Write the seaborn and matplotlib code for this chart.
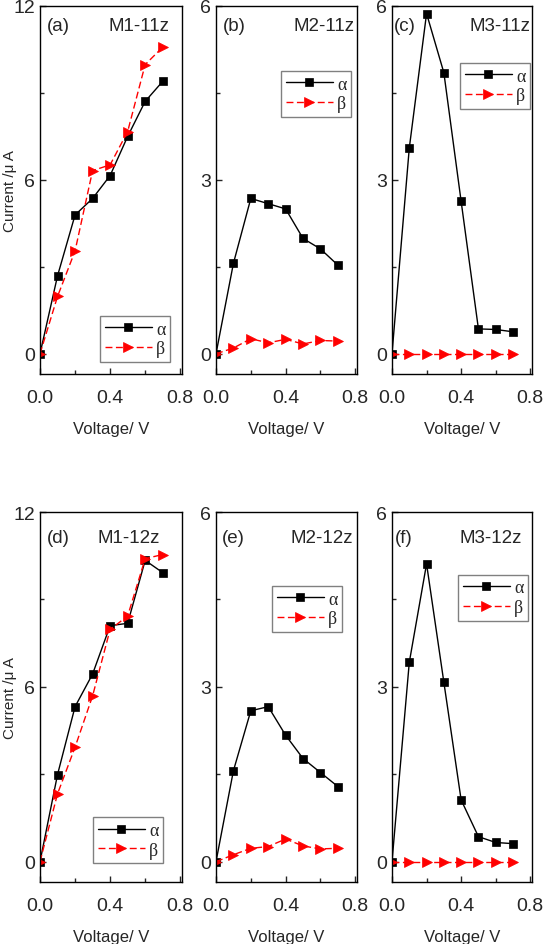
import numpy as np
import pandas as pd
import matplotlib
matplotlib.use("Agg")
import matplotlib.pyplot as plt
from matplotlib.ticker import FixedLocator
import seaborn as sns

voltage = [0.0, 0.1, 0.2, 0.3, 0.4, 0.5, 0.6, 0.7]

m1_11z_alpha = [0.0, 2.69, 4.79, 5.36, 6.15, 7.50, 8.71, 9.40]
m1_11z_beta = [0.0, 1.98, 3.55, 6.32, 6.52, 7.67, 9.98, 10.58]
m2_11z_alpha = [0.0, 1.56, 2.68, 2.59, 2.50, 1.99, 1.81, 1.53]
m2_11z_beta = [0.0, 0.10, 0.26, 0.19, 0.25, 0.17, 0.23, 0.22]
m3_11z_alpha = [0.0, 3.55, 5.87, 4.85, 2.63, 0.43, 0.42, 0.38]
m3_11z_beta = [0.0, 0.0, 0.0, 0.0, 0.0, 0.0, 0.0, 0.0]
m1_12z_alpha = [0.0, 2.99, 5.32, 6.44, 8.10, 8.18, 10.34, 9.92]
m1_12z_beta = [0.0, 2.33, 3.93, 5.69, 7.97, 8.43, 10.40, 10.54]
m2_12z_alpha = [0.0, 1.56, 2.59, 2.66, 2.17, 1.77, 1.53, 1.29]
m2_12z_beta = [0.0, 0.12, 0.23, 0.26, 0.39, 0.27, 0.22, 0.23]
m3_12z_alpha = [0.0, 3.42, 5.11, 3.08, 1.06, 0.43, 0.33, 0.31]
m3_12z_beta = [0.0, 0.0, 0.0, 0.0, 0.0, 0.0, 0.0, 0.0]

panel_tags = ["(a)", "(b)", "(c)", "(d)", "(e)", "(f)"]
panel_names = ["M1-11z", "M2-11z", "M3-11z", "M1-12z", "M2-12z", "M3-12z"]
series_names = ["α", "β"]
panel_data = [
    (m1_11z_alpha, m1_11z_beta),
    (m2_11z_alpha, m2_11z_beta),
    (m3_11z_alpha, m3_11z_beta),
    (m1_12z_alpha, m1_12z_beta),
    (m2_12z_alpha, m2_12z_beta),
    (m3_12z_alpha, m3_12z_beta),
]
ymax_list = [12, 6, 6, 12, 6, 6]
x_ticks = [0.0, 0.4, 0.8]
x_minor = [0.2, 0.6]

sns.set_style("ticks")
plt.rcParams["font.family"] = ["Liberation Sans", "DejaVu Sans"]
plt.rcParams["axes.linewidth"] = 1.0

W, H = 546, 945
fig = plt.figure(figsize=(W / 100, H / 100), dpi=100)

col_px = [(40, 182), (216, 357), (392, 532)]
row_px = [(7, 375), (513, 883)]

# layout: (tag_x, tag_y, name_x) in axes fraction; legend (loc, anchor)
text_pos = [(0.05, 0.946, 0.91), (0.05, 0.946, 0.985), (0.01, 0.946, 0.985),
            (0.05, 0.932, 0.845), (0.04, 0.932, 0.97), (0.02, 0.932, 0.93)]
legend_pos = [("lower right", (0.915, 0.033)), ("upper right", (0.957, 0.823)),
              ("upper right", (0.986, 0.845)), ("lower right", (0.866, 0.051)),
              ("upper right", (0.894, 0.80)), ("upper right", (0.971, 0.83))]

palette = {"α": "black", "β": "red"}
markers = {"α": "s", "β": ">"}
dashes = {"α": "", "β": (5, 2.5)}

for i in range(6):
    r, c = divmod(i, 3)
    x0, x1 = col_px[c]
    y0, y1 = row_px[r]
    ax = fig.add_axes([x0 / W, 1 - y1 / H, (x1 - x0) / W, (y1 - y0) / H])
    a_vals, b_vals = panel_data[i]
    df = pd.DataFrame({
        "Voltage": voltage + voltage,
        "Current": list(a_vals) + list(b_vals),
        "series": [series_names[0]] * len(voltage) + [series_names[1]] * len(voltage),
    })
    sns.lineplot(data=df, x="Voltage", y="Current", hue="series", style="series",
                 palette=palette, markers=markers, dashes=dashes, ax=ax,
                 markersize=6.8, linewidth=1.0, markeredgewidth=0.5,
                 legend="auto")
    for ln in ax.lines:
        if ln.get_marker() == "s":
            ln.set_markersize(5.8)
        ln.set_markeredgecolor(ln.get_color())
    ymax = ymax_list[i]
    ax.set_xlim(0, 0.81)
    ax.set_ylim(-ymax * 0.058, ymax)
    ax.set_xticks(x_ticks)
    ax.set_xticklabels(["0.0", "0.4", "0.8"])
    ax.xaxis.set_minor_locator(FixedLocator(x_minor))
    ax.set_yticks([0, ymax / 2, ymax])
    ax.set_yticklabels([f"{v:g}" for v in [0, ymax / 2, ymax]])
    ax.yaxis.set_minor_locator(FixedLocator([ymax / 4, 3 * ymax / 4]))
    ax.tick_params(axis="x", which="both", direction="in", pad=10.5, labelsize=14)
    ax.tick_params(axis="y", which="both", direction="in", pad=3.5, labelsize=14)
    ax.tick_params(which="major", length=4.5, width=1)
    ax.tick_params(which="minor", length=3, width=1)
    for sp in ax.spines.values():
        sp.set_visible(True)
        sp.set_color("black")
        sp.set_linewidth(1.0)
    ax.set_xlabel("Voltage/ V", fontsize=12, labelpad=11)
    if c == 0:
        ax.set_ylabel("Current /μ A", fontsize=11)
        ax.yaxis.set_label_coords(-0.165, 0.5)
    else:
        ax.set_ylabel("")
    tx, ty, nx = text_pos[i]
    ax.text(tx, ty, panel_tags[i], transform=ax.transAxes, fontsize=13.5,
            ha="left", va="center")
    ax.text(nx, ty, panel_names[i], transform=ax.transAxes, fontsize=13.5,
            ha="right", va="center")
    handles, labels = ax.get_legend_handles_labels()
    loc, anchor = legend_pos[i]
    leg = ax.legend(handles, labels, loc=loc, bbox_to_anchor=anchor,
                    prop={"family": "Liberation Serif", "size": 13},
                    numpoints=1, handlelength=2.6, handletextpad=0.25,
                    labelspacing=0.15, borderpad=0.25, borderaxespad=0.0,
                    fancybox=False, framealpha=1.0, edgecolor="gray")
    leg.get_frame().set_linewidth(1.0)

fig.savefig("out.png", dpi=100)
